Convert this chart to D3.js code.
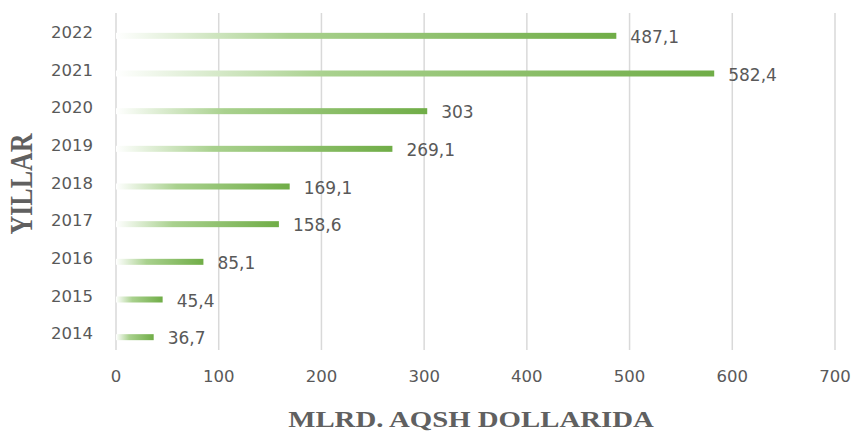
<!DOCTYPE html>
<html>
<head>
<meta charset="utf-8">
<script src="https://cdn.jsdelivr.net/npm/d3@7"></script>
<style>
  body { margin: 0; background: #fff; }
</style>
</head>
<body>
<div id="chart"></div>
<script>
var years = ["2022", "2021", "2020", "2019", "2018", "2017", "2016", "2015", "2014"];
var values = [487.1, 582.4, 303, 269.1, 169.1, 158.6, 85.1, 45.4, 36.7];
var ticks = [0, 100, 200, 300, 400, 500, 600, 700];

var width = 853, height = 432;

var svg = d3.select("#chart")
    .append("svg")
    .attr("width", width)
    .attr("height", height)

var x = d3.scaleLinear()
    .domain([0, 700])
    .range([116, 835])

var y = d3.scaleBand()
    .domain(years)
    .range([17, 356])

// gradient for bars
var defs = svg.append("defs")
var grad = defs.append("linearGradient")
    .attr("id", "barGrad")
    .attr("x1", "0%").attr("x2", "100%")
    .attr("y1", "0%").attr("y2", "0%")
grad.append("stop").attr("offset", "0%").attr("stop-color", "#ffffff")
grad.append("stop").attr("offset", "35%").attr("stop-color", "#a9d18e")
grad.append("stop").attr("offset", "100%").attr("stop-color", "#70ad47")

// gridlines
svg.append("g")
    .selectAll("line")
    .data(ticks)
    .enter()
    .append("line")
    .attr("x1", function(d) { return x(d); })
    .attr("x2", function(d) { return x(d); })
    .attr("y1", 13)
    .attr("y2", 350)
    .style("stroke", "#d9d9d9")
    .style("stroke-width", 1.5)

var labelFont = "'DejaVu Sans', sans-serif";

// tick labels
svg.append("g")
    .selectAll("text")
    .data(ticks)
    .enter()
    .append("text")
    .attr("x", function(d) { return x(d); })
    .attr("y", 382)
    .attr("text-anchor", "middle")
    .style("font-family", labelFont)
    .style("font-size", "16.5px")
    .style("fill", "#595959")
    .text(function(d) { return d; })

// bars
var barH = 6;
svg.append("g")
    .selectAll("rect")
    .data(values)
    .enter()
    .append("rect")
    .attr("x", x(0))
    .attr("y", function(d, i) { return y(years[i]) + y.bandwidth() / 2 - barH / 2; })
    .attr("width", function(d) { return x(d) - x(0); })
    .attr("height", barH)
    .style("fill", "url(#barGrad)")

// value labels
svg.append("g")
    .selectAll("text")
    .data(values)
    .enter()
    .append("text")
    .attr("x", function(d) { return x(d) + 14; })
    .attr("y", function(d, i) { return y(years[i]) + y.bandwidth() / 2 + 7; })
    .style("font-family", labelFont)
    .style("font-size", "17px")
    .style("fill", "#595959")
    .text(function(d) { return String(d).replace(".", ","); })

// year labels
svg.append("g")
    .selectAll("text")
    .data(years)
    .enter()
    .append("text")
    .attr("x", 93)
    .attr("y", function(d) { return y(d) + y.bandwidth() / 2 + 2; })
    .attr("text-anchor", "end")
    .style("font-family", labelFont)
    .style("font-size", "16.5px")
    .style("fill", "#595959")
    .text(function(d) { return d; })

// axis titles (source picture is stretched horizontally)
svg.append("text")
    .attr("transform", "translate(32,184) scale(1.2,1) rotate(-90)")
    .attr("text-anchor", "middle")
    .style("font-family", "'Liberation Serif', serif")
    .style("font-weight", "bold")
    .style("font-size", "26px")
    .style("fill", "#606060")
    .text("YILLAR")

svg.append("text")
    .attr("transform", "translate(471,427) scale(1.2,1)")
    .attr("text-anchor", "middle")
    .style("font-family", "'Liberation Serif', serif")
    .style("font-weight", "bold")
    .style("font-size", "24px")
    .style("fill", "#606060")
    .text("MLRD. AQSH DOLLARIDA")
</script>
</body>
</html>
